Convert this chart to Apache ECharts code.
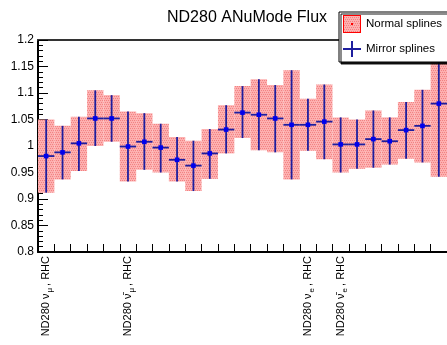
<!DOCTYPE html>
<html>
<head>
<meta charset="utf-8">
<script src="https://cdn.jsdelivr.net/npm/echarts@6/dist/echarts.min.js"></script>
<style>
  html, body { margin: 0; padding: 0; background: #fff; }
  #chart { width: 447px; height: 345px; }
</style>
</head>
<body>
<div id="chart"></div>
<script>
// Flux parameter bins (25 bins, the last one runs past the right edge)
const binCount = 25;

// Mirror splines: central value and error bar limits per bin
const mirrorValue = [0.981, 0.988, 1.005, 1.052, 1.052, 0.999, 1.008, 0.997, 0.974, 0.963,
                     0.986, 1.031, 1.063, 1.059, 1.052, 1.040, 1.040, 1.046, 1.003, 1.003,
                     1.013, 1.009, 1.030, 1.038, 1.080];
const mirrorLow   = [0.912, 0.937, 0.953, 1.000, 1.008, 0.933, 0.955, 0.950, 0.933, 0.915,
                     0.938, 0.986, 1.015, 0.992, 0.988, 0.937, 0.991, 0.975, 0.950, 0.957,
                     0.959, 0.965, 0.976, 0.969, 0.942];
const mirrorHigh  = [1.050, 1.038, 1.055, 1.105, 1.096, 1.065, 1.062, 1.042, 1.017, 1.010,
                     1.032, 1.077, 1.113, 1.126, 1.115, 1.143, 1.089, 1.116, 1.054, 1.050,
                     1.067, 1.054, 1.083, 1.106, 1.205];

// Normal splines: band limits per bin
const normalLow   = [0.912, 0.937, 0.953, 1.000, 1.008, 0.933, 0.955, 0.950, 0.933, 0.915,
                     0.938, 0.986, 1.015, 0.992, 0.988, 0.937, 0.991, 0.975, 0.950, 0.957,
                     0.959, 0.965, 0.976, 0.969, 0.942];
const normalHigh  = [1.050, 1.038, 1.055, 1.105, 1.096, 1.065, 1.062, 1.042, 1.017, 1.010,
                     1.032, 1.077, 1.113, 1.126, 1.115, 1.143, 1.089, 1.116, 1.054, 1.050,
                     1.067, 1.054, 1.083, 1.106, 1.205];

// Bin labels: first bin of each flavour block, split as [text, subscript, text]
const labelBins  = [0, 5, 16, 18];
const labelParts = [
  ['ND280 \u03bd', '\u03bc', ', RHC'],
  ['ND280 \u03bd\u0304', '\u03bc', ', RHC'],
  ['ND280 \u03bd', 'e', ', RHC'],
  ['ND280 \u03bd\u0304', 'e', ', RHC']
];

// Y axis range and major step
const yMin = 0.8, yMax = 1.2, yStep = 0.05;

const FONT = '"Liberation Sans", Arial, Helvetica, sans-serif';

const categories = [];
for (let i = 0; i < binCount; i++) {
  const k = labelBins.indexOf(i);
  categories.push(k < 0 ? '' :
    '{n|' + labelParts[k][0] + '}{s|' + labelParts[k][1] + '}{n|' + labelParts[k][2] + '}');
}

// Red dotted fill used for the normal-spline bands
function makeHatch() {
  const c = document.createElement('canvas');
  c.width = 4; c.height = 4;
  const g = c.getContext('2d');
  g.fillStyle = '#fdb0b0';
  g.fillRect(0, 0, 4, 4);
  g.fillStyle = '#f28282';
  g.fillRect(0, 0, 1, 1); g.fillRect(2, 0, 1, 1);
  g.fillRect(1, 2, 1, 1); g.fillRect(3, 2, 1, 1);
  return c;
}
const hatch = makeHatch();
const hatchFill = { image: hatch, repeat: 'repeat' };

function iconNormal() {
  const c = document.createElement('canvas');
  c.width = 18; c.height = 18;
  const g = c.getContext('2d');
  g.fillStyle = g.createPattern(hatch, 'repeat');
  g.fillRect(0, 0, 18, 18);
  g.strokeStyle = '#ff0000';
  g.lineWidth = 1;
  g.strokeRect(0.5, 0.5, 17, 17);
  g.fillStyle = '#ff0000';
  g.fillRect(8, 8, 2, 2);
  return 'image://' + c.toDataURL();
}
function iconMirror() {
  const c = document.createElement('canvas');
  c.width = 18; c.height = 18;
  const g = c.getContext('2d');
  g.strokeStyle = '#1e1e9e';
  g.lineWidth = 2;
  g.beginPath();
  g.moveTo(0, 9); g.lineTo(18, 9);
  g.moveTo(9, 1); g.lineTo(9, 17);
  g.stroke();
  return 'image://' + c.toDataURL();
}

const boxData = normalLow.map((lo, i) => [i, lo, normalHigh[i]]);
const errData = mirrorValue.map((v, i) => [i, v, mirrorLow[i], mirrorHigh[i]]);

function clipTo(params) {
  const cs = params.coordSys;
  return { x: cs.x, y: cs.y, width: cs.width, height: cs.height };
}

const chart = echarts.init(document.getElementById('chart'), null, { renderer: 'canvas' });

chart.setOption({
  animation: false,
  backgroundColor: '#fff',
  title: {
    text: 'ND280 ANuMode Flux',
    left: 167,
    top: 10,
    padding: 0,
    textStyle: { fontFamily: FONT, fontSize: 16, fontWeight: 'normal', color: '#000' }
  },
  legend: {
    orient: 'vertical',
    left: 339,
    top: 12,
    padding: [3, 40, 4, 4],
    itemWidth: 18,
    itemHeight: 18,
    itemGap: 7,
    selectedMode: false,
    backgroundColor: '#fff',
    borderColor: '#000',
    borderWidth: 1,
    shadowColor: 'rgba(0,0,0,0.9)',
    shadowBlur: 0,
    shadowOffsetX: 2,
    shadowOffsetY: 2,
    textStyle: { fontFamily: FONT, fontSize: 11.5, color: '#000' },
    data: [
      { name: 'Normal splines', icon: iconNormal() },
      { name: 'Mirror splines', icon: iconMirror() }
    ]
  },
  grid: { left: 38, top: 40, width: 416.67, height: 212, containLabel: false },
  xAxis: [
    {
      type: 'category',
      data: categories,
      boundaryGap: true,
      axisLine: { onZero: false, lineStyle: { color: '#000', width: 2 } },
      axisTick: { show: true, inside: true, length: 8, interval: 0, alignWithLabel: false,
                  lineStyle: { color: '#000', width: 1 } },
      axisLabel: {
        interval: 0, rotate: 90, margin: 4,
        fontFamily: FONT, fontSize: 11, color: '#000',
        rich: {
          n: { fontFamily: FONT, fontSize: 11, lineHeight: 16, color: '#000' },
          s: { fontFamily: FONT, fontSize: 8, lineHeight: 8, verticalAlign: 'bottom',
               padding: [0, 2, 0, 1], color: '#000' }
        }
      },
      splitLine: { show: false }
    },
    {
      type: 'category',
      data: categories,
      position: 'top',
      boundaryGap: true,
      axisLine: { onZero: false, lineStyle: { color: '#333', width: 2 } },
      axisTick: { show: false },
      axisLabel: { show: false },
      splitLine: { show: false }
    }
  ],
  yAxis: {
    type: 'value',
    min: yMin,
    max: yMax,
    interval: yStep,
    axisLine: { show: true, lineStyle: { color: '#000', width: 2 } },
    axisTick: { show: true, inside: true, length: 10, lineStyle: { color: '#000', width: 1 } },
    minorTick: { show: true, splitNumber: 5, length: 5, lineStyle: { color: '#000', width: 1 } },
    axisLabel: { fontFamily: FONT, fontSize: 12, color: '#000', margin: 4 },
    splitLine: { show: false }
  },
  series: [
    {
      name: 'Normal splines',
      type: 'custom',
      xAxisIndex: 0,
      data: boxData,
      encode: { x: 0, y: [1, 2] },
      z: 2,
      renderItem: function (params, api) {
        const i = api.value(0);
        const top = api.coord([i, api.value(2)]);
        const bot = api.coord([i, api.value(1)]);
        const w = api.size([1, 0])[0];
        const shape = echarts.graphic.clipRectByRect(
          { x: top[0] - w / 2, y: top[1], width: w, height: bot[1] - top[1] },
          clipTo(params));
        if (!shape) return null;
        return { type: 'rect', shape: shape, style: { fill: hatchFill } };
      }
    },
    {
      name: 'Mirror splines',
      type: 'custom',
      xAxisIndex: 0,
      data: errData,
      encode: { x: 0, y: [1, 2, 3] },
      z: 3,
      renderItem: function (params, api) {
        const i = api.value(0);
        const c = api.coord([i, api.value(1)]);
        const cs = params.coordSys;
        const hi = Math.max(api.coord([i, api.value(3)])[1], cs.y);
        const lo = api.coord([i, api.value(2)])[1];
        const w = api.size([1, 0])[0];
        const line = { stroke: '#1e1e9e', lineWidth: 1.8 };
        return {
          type: 'group',
          children: [
            { type: 'line', shape: { x1: c[0], y1: hi, x2: c[0], y2: lo }, style: line },
            { type: 'line', shape: { x1: c[0] - w / 2, y1: c[1], x2: c[0] + w / 2, y2: c[1] }, style: line },
            { type: 'rect', shape: { x: c[0] - 2.3, y: c[1] - 2.3, width: 4.6, height: 4.6 },
              style: { fill: '#0000ee' } }
          ]
        };
      }
    }
  ]
});
</script>
</body>
</html>
